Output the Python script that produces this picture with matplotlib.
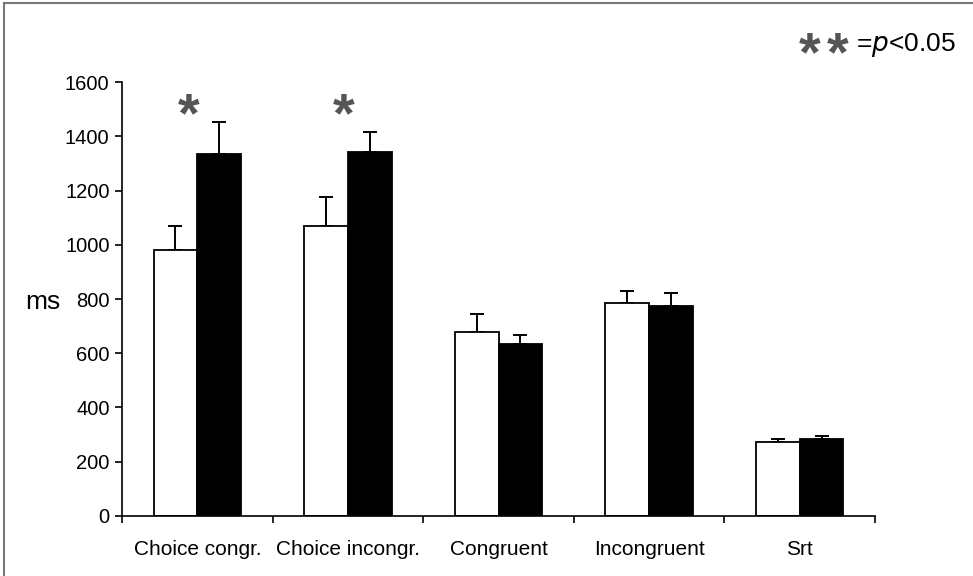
import matplotlib
matplotlib.use("Agg")
import matplotlib.pyplot as plt
import numpy as np

categories = ["Choice congr.", "Choice incongr.", "Congruent", "Incongruent", "Srt"]
white_vals = [980, 1069, 677, 786, 274]
white_err = [90, 106, 69, 43, 11]
black_vals = [1334, 1343, 635, 775, 285]
black_err = [119, 74, 32, 48, 9]
sig_groups = [0, 1]
sig_offsets = [-0.06, -0.03]
yticks = [0, 200, 400, 600, 800, 1000, 1200, 1400, 1600]

plt.rcParams['font.family'] = ['Liberation Sans', 'DejaVu Sans']

fig = plt.figure(figsize=(9.73, 5.76), dpi=100)
ax = fig.add_axes([0.1254, 0.1042, 0.7739, 0.7534])

x = np.arange(len(categories))
w = 0.29
ax.bar(x - w / 2, white_vals, w, color='white', edgecolor='black', linewidth=1.3, zorder=2)
ax.bar(x + w / 2, black_vals, w, color='black', edgecolor='black', linewidth=1.3, zorder=2)
ax.errorbar(x - w / 2, white_vals, yerr=[np.zeros(len(x)), white_err], fmt='none',
            ecolor='black', elinewidth=1.4, capsize=5, capthick=1.4, zorder=1)
ax.errorbar(x + w / 2, black_vals, yerr=[np.zeros(len(x)), black_err], fmt='none',
            ecolor='black', elinewidth=1.4, capsize=5, capthick=1.4, zorder=1)

for g, off in zip(sig_groups, sig_offsets):
    ax.text(g + off, 1470, "*", fontsize=40, fontweight='bold', color='#555555',
            ha='center', va='center')

ax.set_xlim(-0.5, len(categories) - 0.5)
ax.set_ylim(0, 1600)
ax.set_yticks(yticks)
ax.set_yticklabels([str(t) for t in yticks], fontsize=14.5)
ax.set_xticks(np.arange(len(categories) + 1) - 0.5)
ax.set_xticklabels([])
ax.set_xticks(x, minor=True)
ax.set_xticklabels(categories, minor=True, fontsize=15)
ax.tick_params(axis='x', which='minor', length=0, pad=17)
ax.tick_params(axis='x', which='major', length=5, width=1.2, direction='out')
ax.tick_params(axis='y', length=5, width=1.2, direction='out', pad=4)
for s in ['top', 'right']:
    ax.spines[s].set_visible(False)
for s in ['left', 'bottom']:
    ax.spines[s].set_linewidth(1.2)

fig.text(0.044, 0.476, "ms", fontsize=19, ha='center', va='center')

fig.text(0.832, 0.903, "*", fontsize=40, fontweight='bold', color='#555555', ha='center', va='center')
fig.text(0.861, 0.903, "*", fontsize=40, fontweight='bold', color='#555555', ha='center', va='center')
fig.text(0.880, 0.922, r"=$\it{p}$<0.05", fontsize=19, ha='left', va='center')

# figure frame (top and left edges visible)
fig.add_artist(plt.Line2D([0.004, 1.0], [0.995, 0.995], color='#777777', linewidth=1.5,
                          transform=fig.transFigure))
fig.add_artist(plt.Line2D([0.004, 0.004], [0.0, 0.995], color='#777777', linewidth=1.5,
                          transform=fig.transFigure))

fig.savefig("out.png", dpi=100)
